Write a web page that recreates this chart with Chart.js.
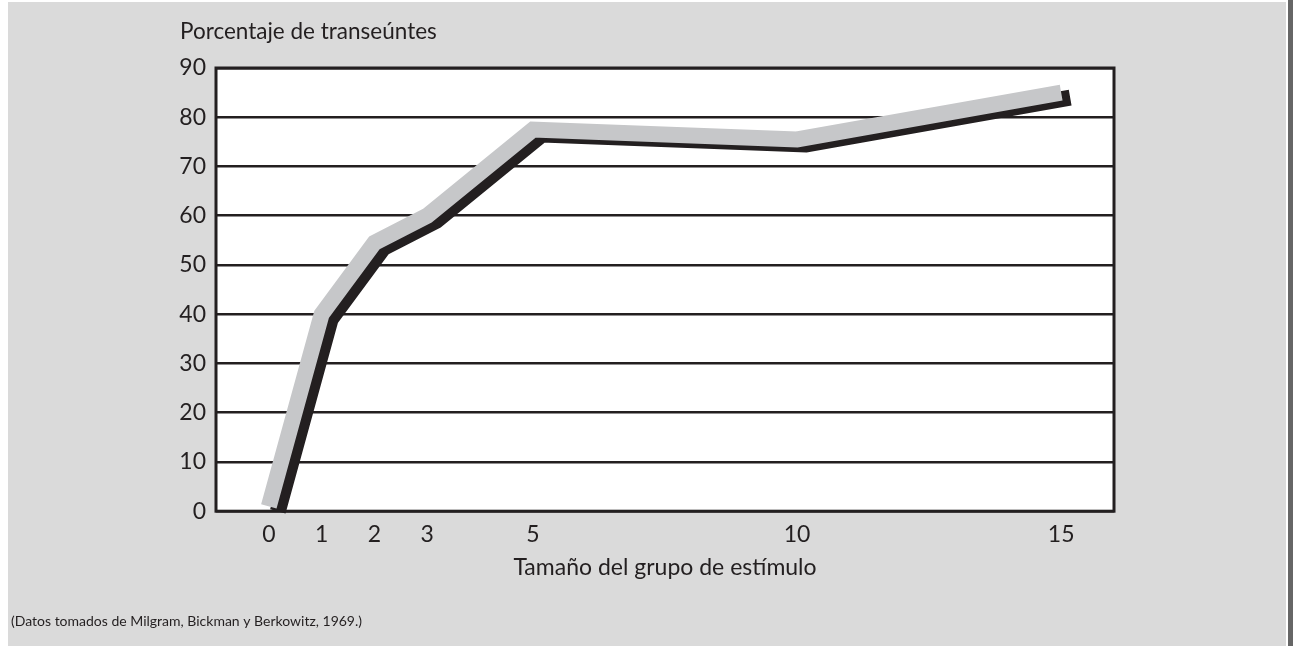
<!DOCTYPE html>
<html>
<head>
<meta charset="utf-8">
<script src="https://cdn.jsdelivr.net/npm/chart.js@4/dist/chart.umd.min.js"></script>
<style>
  html, body { margin: 0; padding: 0; background: #ffffff; }
  body { width: 1293px; height: 646px; position: relative; overflow: hidden; }
  #panel { position: absolute; left: 8px; top: 2px; width: 1278px; height: 644px; background: #dadada; }
  #bar { position: absolute; left: 1288px; top: 0; width: 5px; height: 646px; background: #666666; }
  #wrap { position: absolute; left: 0; top: 0; width: 1293px; height: 646px; }
</style>
</head>
<body>
<div id="panel"></div>
<div id="bar"></div>
<div id="wrap"><canvas id="chart" width="1293" height="646"></canvas></div>
<script>
// datos
const groupSizes = [0, 1, 2, 3, 5, 10, 15];
const helpPercent = [1, 40, 54.5, 60, 77.5, 75.5, 85];
const xTicks = [0, 1, 2, 3, 5, 10, 15];
const yTicks = [0, 10, 20, 30, 40, 50, 60, 70, 80, 90];

const yTitle = 'Porcentaje de transeúntes';
const xTitle = 'Tamaño del grupo de estímulo';
const sourceNote = '(Datos tomados de Milgram, Bickman y Berkowitz, 1969.)';

const ink = '#231f20';
const fontFamily = 'Lato, "Open Sans", sans-serif';

// fondo blanco del área + marco negro
const plotFrame = {
  id: 'plotFrame',
  beforeDraw(chart) {
    const { ctx, chartArea: a } = chart;
    ctx.save();
    ctx.fillStyle = '#ffffff';
    ctx.fillRect(a.left, a.top, a.right - a.left, a.bottom - a.top);
    ctx.restore();
  },
  afterDraw(chart) {
    const { ctx, chartArea: a } = chart;
    ctx.save();
    ctx.strokeStyle = ink;
    ctx.lineWidth = 3;
    ctx.strokeRect(a.left, a.top, a.right - a.left, a.bottom - a.top);
    // titulo del eje y, arriba a la izquierda
    ctx.fillStyle = ink;
    ctx.font = '22.5px ' + fontFamily;
    ctx.textAlign = 'left';
    ctx.textBaseline = 'middle';
    ctx.fillText(yTitle, 180, 32);
    ctx.restore();
  }
};

// sombra negra desplazada bajo la linea gris
const lineShadow = {
  id: 'lineShadow',
  beforeDatasetDraw(chart) {
    const ctx = chart.ctx;
    ctx.save();
    ctx.shadowColor = ink;
    ctx.shadowBlur = 0;
    ctx.shadowOffsetX = 9;
    ctx.shadowOffsetY = 5;
  },
  afterDatasetDraw(chart) {
    chart.ctx.restore();
  }
};

new Chart(document.getElementById('chart'), {
  type: 'line',
  data: {
    datasets: [{
      data: groupSizes.map((x, i) => ({ x: x, y: helpPercent[i] })),
      borderColor: '#c6c7c9',
      borderWidth: 16,
      borderCapStyle: 'butt',
      borderJoinStyle: 'miter',
      pointRadius: 0,
      tension: 0,
      fill: false,
      clip: 12
    }]
  },
  options: {
    responsive: false,
    animation: false,
    layout: { padding: { left: 11, right: 179, top: 68, bottom: 16 } },
    plugins: {
      legend: { display: false },
      tooltip: { enabled: false },
      title: {
        display: true,
        text: sourceNote,
        position: 'bottom',
        align: 'start',
        color: ink,
        font: { family: fontFamily, size: 14, weight: 'normal' },
        padding: { top: 22, bottom: 0 }
      }
    },
    scales: {
      x: {
        type: 'linear',
        min: -1,
        max: 16,
        afterBuildTicks: s => { s.ticks = xTicks.map(v => ({ value: v })); },
        afterFit: s => { s.height = 80; },
        grid: { display: false, drawTicks: false },
        border: { display: false },
        ticks: {
          color: ink,
          padding: 10,
          font: { family: fontFamily, size: 23 }
        },
        title: {
          display: true,
          text: xTitle,
          color: ink,
          font: { family: fontFamily, size: 23 },
          padding: { top: 0, bottom: 10 }
        }
      },
      y: {
        min: 0,
        max: 90,
        afterBuildTicks: s => { s.ticks = yTicks.map(v => ({ value: v })); },
        afterFit: s => { s.width = 205; },
        grid: { color: ink, lineWidth: 2.5, drawTicks: false },
        border: { display: false },
        ticks: {
          color: ink,
          padding: 10,
          font: { family: fontFamily, size: 23 }
        }
      }
    }
  },
  plugins: [plotFrame, lineShadow]
});
</script>
</body>
</html>
